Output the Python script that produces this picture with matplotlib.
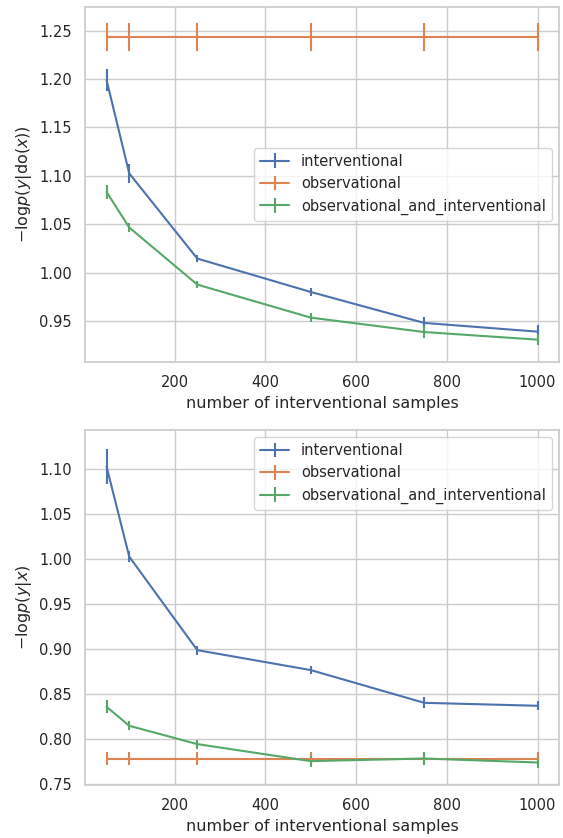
import matplotlib
matplotlib.use("Agg")
import matplotlib.pyplot as plt
import seaborn as sns

n_samples = [50, 100, 250, 500, 750, 1000]

# -log p(y | do(x))
do_interv = [1.199, 1.1025, 1.0145, 0.980, 0.948, 0.939]
do_interv_err = [0.011, 0.0098, 0.004, 0.004, 0.006, 0.007]
do_obs = [1.2435] * 6
do_obs_err = [0.014] * 6
do_both = [1.0834, 1.0466, 0.9876, 0.9535, 0.9386, 0.9307]
do_both_err = [0.007, 0.005, 0.004, 0.005, 0.006, 0.006]

# -log p(y | x)
cond_interv = [1.1026, 1.0027, 0.899, 0.8769, 0.8406, 0.8373]
cond_interv_err = [0.0198, 0.006, 0.005, 0.004, 0.006, 0.005]
cond_obs = [0.7788] * 6
cond_obs_err = [0.0074] * 6
cond_both = [0.8362, 0.8151, 0.7948, 0.7759, 0.7788, 0.7744]
cond_both_err = [0.007, 0.005, 0.005, 0.006, 0.007, 0.006]

labels = ["interventional", "observational", "observational_and_interventional"]


def draw(ax, series, ylabel, legend_loc):
    for (y, err), label in zip(series, labels):
        ax.errorbar(n_samples, y, yerr=err, label=label)
    ax.set_xlabel("number of interventional samples")
    ax.set_ylabel(ylabel)
    ax.legend(loc=legend_loc)


def main():
    sns.set_theme(style="whitegrid", font_scale=0.96)
    fig = plt.figure(figsize=(5.63, 8.38), dpi=100)
    ax1 = fig.add_axes([0.151, 0.568, 0.842, 0.424])
    ax2 = fig.add_axes([0.151, 0.063, 0.842, 0.424])

    draw(ax1, [(do_interv, do_interv_err), (do_obs, do_obs_err), (do_both, do_both_err)],
         r"$-\mathrm{log}p(y|\mathrm{do}(x))$", "center right")
    ax1.set_ylim(0.9076, 1.2748)
    ax1.set_yticks([0.95, 1.00, 1.05, 1.10, 1.15, 1.20, 1.25])

    draw(ax2, [(cond_interv, cond_interv_err), (cond_obs, cond_obs_err), (cond_both, cond_both_err)],
         r"$-\mathrm{log}p(y|x)$", "upper right")
    ax2.set_ylim(0.7492, 1.1433)

    for ax in (ax1, ax2):
        ax.set_xticks([200, 400, 600, 800, 1000])

    fig.savefig("out.png", dpi=100)


if __name__ == "__main__":
    main()
